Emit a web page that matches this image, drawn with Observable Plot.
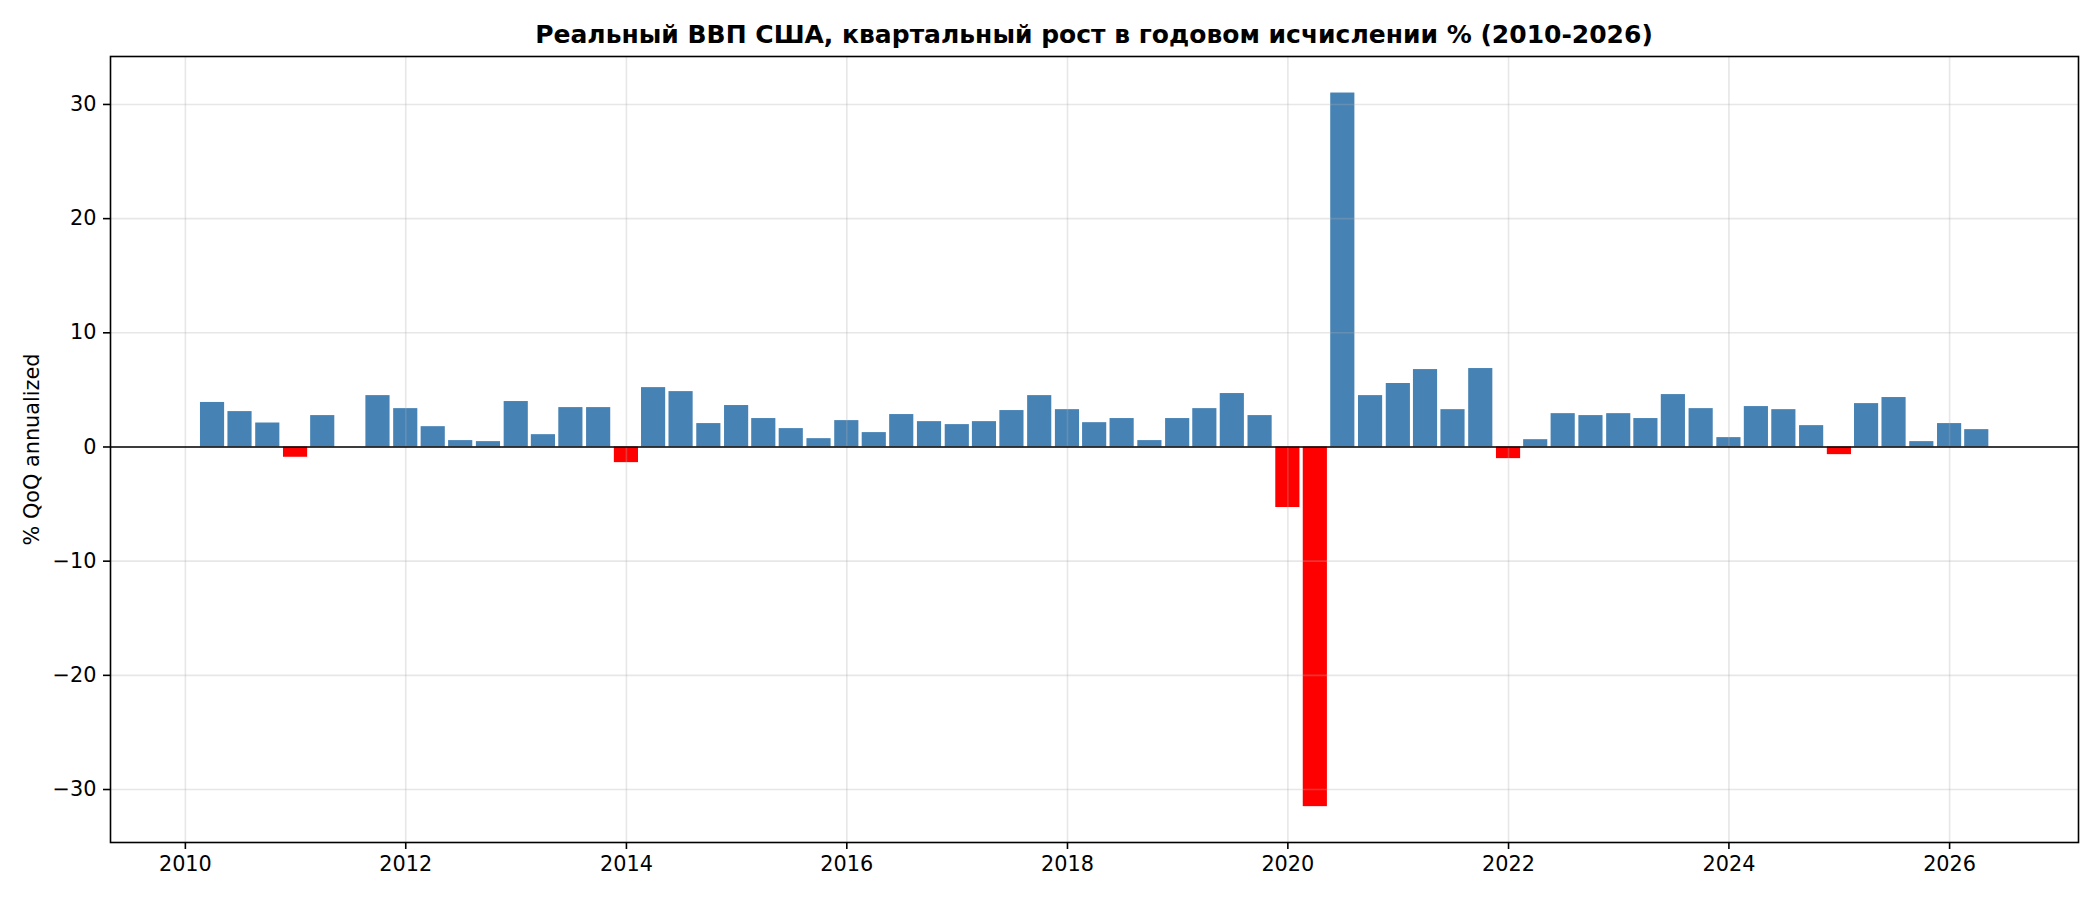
<!DOCTYPE html>
<html>
<head>
<meta charset="utf-8">
<script src="https://cdn.jsdelivr.net/npm/d3@7"></script>
<script src="https://cdn.jsdelivr.net/npm/@observablehq/plot@0.6"></script>
<style>
  html, body { margin: 0; padding: 0; background: #fff; }
  #title {
    box-sizing: border-box; height: 50px; width: 1968px; margin-left: 110px;
    padding-top: 20px; line-height: 30px; text-align: center;
    font-family: "DejaVu Sans", sans-serif; font-weight: bold; font-size: 25px; color: #000;
    white-space: nowrap;
  }
</style>
</head>
<body>
<div id="title">Реальный ВВП США, квартальный рост в годовом исчислении % (2010-2026)</div>
<div id="chart"></div>
<script>
const title = "Реальный ВВП США, квартальный рост в годовом исчислении % (2010-2026)";
const yLabel = "% QoQ annualized";

// Quarter start dates 2010Q1 .. 2026Q2
const quarters = [
  "2010-01-01","2010-04-01","2010-07-01","2010-10-01",
  "2011-01-01","2011-04-01","2011-07-01","2011-10-01",
  "2012-01-01","2012-04-01","2012-07-01","2012-10-01",
  "2013-01-01","2013-04-01","2013-07-01","2013-10-01",
  "2014-01-01","2014-04-01","2014-07-01","2014-10-01",
  "2015-01-01","2015-04-01","2015-07-01","2015-10-01",
  "2016-01-01","2016-04-01","2016-07-01","2016-10-01",
  "2017-01-01","2017-04-01","2017-07-01","2017-10-01",
  "2018-01-01","2018-04-01","2018-07-01","2018-10-01",
  "2019-01-01","2019-04-01","2019-07-01","2019-10-01",
  "2020-01-01","2020-04-01","2020-07-01","2020-10-01",
  "2021-01-01","2021-04-01","2021-07-01","2021-10-01",
  "2022-01-01","2022-04-01","2022-07-01","2022-10-01",
  "2023-01-01","2023-04-01","2023-07-01","2023-10-01",
  "2024-01-01","2024-04-01","2024-07-01","2024-10-01",
  "2025-01-01","2025-04-01","2025-07-01","2025-10-01",
  "2026-01-01","2026-04-01"
];
const growth = [
  null, 3.9, 3.1, 2.1,
  -0.9, 2.75, 0, 4.5,
  3.36, 1.78, 0.56, 0.47,
  3.98, 1.08, 3.45, 3.45,
  -1.37, 5.2, 4.85, 2.05,
  3.63, 2.49, 1.61, 0.73,
  2.31, 1.26, 2.84, 2.22,
  1.96, 2.22, 3.19, 4.5,
  3.27, 2.13, 2.49, 0.56,
  2.49, 3.36, 4.68, 2.75,
  -5.3, -31.5, 31.0, 4.5,
  5.56, 6.78, 3.27, 6.87,
  -1.02, 0.64, 2.92, 2.75,
  2.92, 2.49, 4.59, 3.36,
  0.82, 3.54, 3.27, 1.87,
  -0.67, 3.8, 4.33, 0.47,
  2.05, 1.52
];
const yTicks = [-30, -20, -10, 0, 10, 20, 30];
const xTickYears = [2010, 2012, 2014, 2016, 2018, 2020, 2022, 2024, 2026];

const DAY = 864e5;
const data = quarters.map((q, i) => ({date: new Date(q + "T00:00:00Z"), value: growth[i]}))
  .filter(d => d.value != null);

const font = "DejaVu Sans, sans-serif";
const chart = Plot.plot({
  width: 2100,
  height: 850,
  marginTop: 6,
  marginBottom: 8 + 50,
  marginLeft: 110,
  marginRight: 22,
  style: {fontFamily: font, fontSize: "20.8px", color: "#000", background: "#fff"},
  x: {type: "utc", domain: [new Date("2009-04-28T00:00:00Z"), new Date("2027-03-04T00:00:00Z")]},
  y: {domain: [-34.64, 34.2]},
  marks: [
    Plot.rectY(data, {
      x1: d => new Date(+d.date - 40 * DAY),
      x2: d => new Date(+d.date + 40 * DAY),
      y1: 0,
      y2: "value",
      fill: d => d.value < 0 ? "#ff0000" : "#4682b4"
    }),
    Plot.gridX(xTickYears.map(y => new Date(Date.UTC(y, 0, 1))), {stroke: "#b0b0b0", strokeOpacity: 0.3, strokeWidth: 1.6}),
    Plot.gridY(yTicks, {stroke: "#b0b0b0", strokeOpacity: 0.3, strokeWidth: 1.6}),
    Plot.ruleY([0], {stroke: "#000", strokeWidth: 1.6}),
    Plot.axisX(xTickYears.map(y => new Date(Date.UTC(y, 0, 1))), {
      tickFormat: d => String(d.getUTCFullYear()),
      tickSize: 7, tickPadding: 7, stroke: "#000", strokeWidth: 1.6, label: null, fill: "#000"
    }),
    Plot.axisY(yTicks, {
      tickFormat: d3.format("d"),
      tickSize: 7, tickPadding: 7, stroke: "#000", strokeWidth: 1.6, label: null, fill: "#000"
    }),
    Plot.text([yLabel], {
      frameAnchor: "left", rotate: -90, dx: -78, text: d => d,
      fontSize: 20.8, fill: "#000", textAnchor: "middle"
    }),
    Plot.frame({stroke: "#000", strokeWidth: 1.6})
  ]
});
document.getElementById("chart").appendChild(chart);
</script>
</body>
</html>
